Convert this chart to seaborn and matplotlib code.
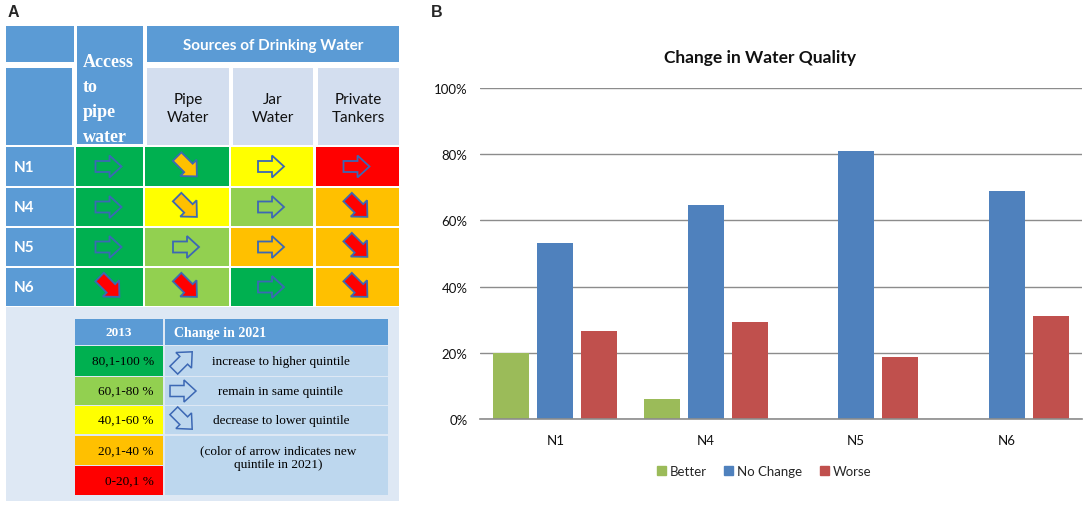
import numpy as np
import pandas as pd
import matplotlib
matplotlib.use('Agg')
import matplotlib.pyplot as plt
import matplotlib.patches as mpatches
from matplotlib.ticker import PercentFormatter
import seaborn as sns

# ---- panel A data: quintile of each site / source in 2013 and 2021 (5 = 80,1-100 %)
sites = ['N1', 'N4', 'N5', 'N6']
sources = ['Pipe\nWater', 'Jar\nWater', 'Private\nTankers']
quintile_2013 = [[5, 5, 3, 1], [5, 3, 4, 2], [5, 4, 2, 2], [5, 4, 5, 2]]
quintile_2021 = [[5, 2, 3, 1], [5, 2, 4, 1], [5, 4, 2, 1], [1, 1, 5, 1]]
quintile_labels = ['0-20,1 %', '20,1-40 %', '40,1-60 %', '60,1-80 %', '80,1-100 %']
quintile_colors = ['#FF0000', '#FFC000', '#FFFF00', '#92D050', '#00B050']
change_labels = ['increase to higher quintile', 'remain in same quintile',
                 'decrease to lower quintile']

# ---- panel B data: change in water quality
groups = ['N1', 'N4', 'N5', 'N6']
better = [0.20, 0.059, 0.0, 0.0]
no_change = [0.532, 0.647, 0.811, 0.688]
worse = [0.267, 0.294, 0.187, 0.311]
series_colors = {'Better': '#9BBB59', 'No Change': '#4F81BD', 'Worse': '#C0504D'}

sns.set_theme(style='white')
plt.rcParams['font.family'] = ['Lato', 'DejaVu Sans']

W, H = 1084, 506
fig = plt.figure(figsize=(W / 100, H / 100), dpi=100)

HEAD_BLUE = '#5B9BD5'
SUB_BLUE = '#D3DEEF'
LIGHT_BLUE = '#BDD7EE'
PANEL_BG = '#DEE8F4'
ARROW_EDGE = '#3C68B4'
SERIF = 'Liberation Serif'

axA = fig.add_axes([0, 0, 1, 1])
axA.set_xlim(0, W)
axA.set_ylim(H, 0)
axA.axis('off')
axA.set_facecolor('none')


def box(x0, x1, y0, y1, color, **kw):
    axA.add_patch(mpatches.Rectangle((x0, y0), x1 - x0, y1 - y0, facecolor=color,
                                     edgecolor='none', **kw))


def block_arrow(cx, cy, angle, face, length=26, shaft=11, head=22, head_len=12, lw=1.3):
    L = length
    pts = np.array([(-L / 2, -shaft / 2), (L / 2 - head_len, -shaft / 2),
                    (L / 2 - head_len, -head / 2), (L / 2, 0),
                    (L / 2 - head_len, head / 2), (L / 2 - head_len, shaft / 2),
                    (-L / 2, shaft / 2)])
    a = np.deg2rad(angle)
    rot = np.array([[np.cos(a), -np.sin(a)], [np.sin(a), np.cos(a)]])
    pts = pts @ rot.T + [cx, cy]
    axA.add_patch(mpatches.Polygon(pts, closed=True, facecolor=face,
                                   edgecolor=ARROW_EDGE, lw=lw, joinstyle='miter'))


# table layout (pixels)
col_x = [(6, 74), (76, 143), (145, 229), (231, 313), (316, 399)]
row_y = [(148, 187), (189, 227), (229, 267), (269, 307)]

# header rows
box(6, 74, 27, 63, HEAD_BLUE)
box(6, 72, 69, 146, HEAD_BLUE)
box(77, 143, 27, 145, HEAD_BLUE)
box(147, 399, 27, 63, HEAD_BLUE)
axA.text(273, 46, 'Sources of Drinking Water', color='white', fontsize=11,
         fontweight='bold', ha='center', va='center')
for i, line in enumerate(['Access', 'to', 'pipe', 'water']):
    axA.text(83, 62 + i * 25, line, color='white', fontsize=13, fontweight='bold',
             family=SERIF, ha='left', va='center')
for j, name in enumerate(sources):
    x0, x1 = col_x[j + 2]
    box(x0 + 2, x1, 69, 146, SUB_BLUE)
    axA.text((x0 + x1) / 2 + 1, 109, name, fontsize=11, ha='center', va='center',
             linespacing=1.45, color='#111111')

# data rows
for i, site in enumerate(sites):
    y0, y1 = row_y[i]
    box(*col_x[0], y0, y1, HEAD_BLUE)
    axA.text(14, (y0 + y1) / 2, site, color='white', fontsize=11, fontweight='bold',
             ha='left', va='center')
    for j in range(4):
        x0, x1 = col_x[j + 1]
        old, new = quintile_2013[i][j], quintile_2021[i][j]
        box(x0, x1, y0, y1, quintile_colors[old - 1])
        cx, cy = (x0 + x1) / 2, (y0 + y1) / 2
        if new == old:
            block_arrow(cx - 1, cy, 0, quintile_colors[new - 1])
        else:
            angle = 45 if new < old else -45
            block_arrow(cx, cy, angle, quintile_colors[new - 1], length=28, shaft=12,
                        head=23, head_len=12)

# legend block
box(6, 399, 308, 502, PANEL_BG)
box(75, 163, 320, 346, HEAD_BLUE)
box(165, 388, 320, 346, HEAD_BLUE)
axA.text(119, 333, '2013', color='white', fontsize=9.5, fontweight='bold', family=SERIF,
         ha='center', va='center')
axA.text(174, 333, 'Change in 2021', color='white', fontsize=10, fontweight='bold',
         family=SERIF, ha='left', va='center')
leg_rows = [(347, 377), (378, 406), (407, 435), (437, 466), (467, 496)]
for k, (y0, y1) in enumerate(leg_rows):
    q = 4 - k
    box(75, 163, y0, y1, quintile_colors[q])
    axA.text(154, (y0 + y1) / 2, quintile_labels[q], fontsize=9.5, family=SERIF,
             ha='right', va='center', color='black')
for k, label in enumerate(change_labels):
    y0, y1 = leg_rows[k]
    box(165, 388, y0, y1, LIGHT_BLUE)
    cy = (y0 + y1) / 2
    block_arrow(183, cy, [-45, 0, 45][k], LIGHT_BLUE, length=26, shaft=11, head=22,
                head_len=12, lw=1.1)
    axA.text(281, cy, label, fontsize=9.5, family=SERIF, ha='center', va='center',
             color='black')
box(165, 388, 437, 496, LIGHT_BLUE)
axA.text(278, 458, '(color of arrow indicates new\nquintile in 2021)', fontsize=9.5,
         family=SERIF, ha='center', va='center', color='black', linespacing=1.15)

axA.text(8, 12, 'A', fontsize=11.5, fontweight='bold', family='Liberation Sans',
         ha='left', va='center')
axA.text(431, 12, 'B', fontsize=11.5, fontweight='bold', family='Liberation Sans',
         ha='left', va='center')

# ---- panel B
df = pd.DataFrame({
    'site': groups * 3,
    'share': better + no_change + worse,
    'change': ['Better'] * 4 + ['No Change'] * 4 + ['Worse'] * 4,
})

axB = fig.add_axes([480 / W, (H - 420) / H, 602 / W, 331 / H])
sns.barplot(data=df, x='site', y='share', hue='change', palette=series_colors,
            saturation=1, width=0.877, gap=0.19, linewidth=0, ax=axB, legend=False)
axB.set_ylim(0, 1)
axB.set_yticks(np.arange(0, 1.01, 0.2))
axB.yaxis.set_major_formatter(PercentFormatter(1.0, decimals=0))
axB.yaxis.grid(True, color='#8C8C8C', lw=1.0)
axB.set_axisbelow(True)
for side in ['left', 'right', 'top']:
    axB.spines[side].set_visible(False)
axB.spines['bottom'].set_color('#8C8C8C')
axB.spines['bottom'].set_linewidth(1.2)
axB.tick_params(axis='both', length=0, labelsize=9.5, colors='#111111')
axB.tick_params(axis='y', pad=9)
axB.tick_params(axis='x', pad=11)
axB.set_xlabel('')
axB.set_ylabel('')

fig.text(760 / W, 1 - 58 / H, 'Change in Water Quality', fontsize=12.5,
         fontweight='bold', ha='center', va='center', color='#111111')

handles = [mpatches.Patch(color=c, label=n) for n, c in series_colors.items()]
fig.legend(handles=handles, loc='center', bbox_to_anchor=(764 / W, 1 - 472 / H),
           ncol=3, frameon=False, fontsize=9.5, handlelength=0.7, handleheight=0.7,
           handletextpad=0.3, columnspacing=1.3)

fig.savefig('out.png', dpi=100, facecolor='white')
